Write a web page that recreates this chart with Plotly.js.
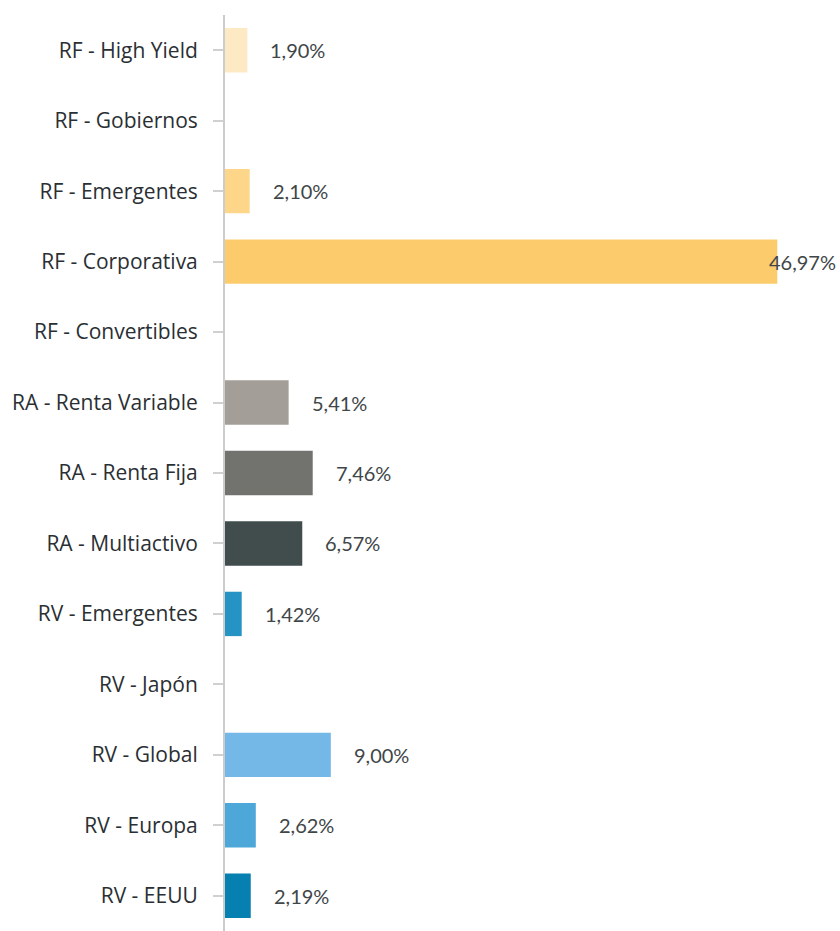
<!DOCTYPE html>
<html>
<head>
<meta charset="utf-8">
<script src="https://cdn.plot.ly/plotly-3.0.1.min.js"></script>
<style>
html,body{margin:0;padding:0;background:#fff;}
#chart{width:840px;height:931px;}
</style>
</head>
<body>
<div id="chart"></div>
<script>
const categories = [
  "RF - High Yield", "RF - Gobiernos", "RF - Emergentes", "RF - Corporativa",
  "RF - Convertibles", "RA - Renta Variable", "RA - Renta Fija", "RA - Multiactivo",
  "RV - Emergentes", "RV - Japón", "RV - Global", "RV - Europa", "RV - EEUU"
];
const values = [1.90, 0, 2.10, 46.97, 0, 5.41, 7.46, 6.57, 1.42, 0, 9.00, 2.62, 2.19];
const colors = [
  "#fde9c4", "#fde9c4", "#fdd68a", "#fccb6c",
  "#fccb6c", "#a39e98", "#72736f", "#414c4c",
  "#2693c5", "#2693c5", "#74b8e8", "#4da7d8", "#0580b0"
];

function fmt(v){ return v.toFixed(2).replace(".", ",") + "%"; }

const annotations = [];
categories.forEach((c, i) => {
  if (values[i] > 0) {
    annotations.push({
      x: values[i], y: c, xref: "x", yref: "y",
      text: fmt(values[i]), showarrow: false,
      xanchor: "left", yanchor: "middle",
      xshift: values[i] > 40 ? -10 : 21,
      font: {family: "Lato, 'Noto Sans', sans-serif", size: 20, color: "#3f4648"}
    });
  }
});

const trace = {
  type: "bar", orientation: "h",
  x: values, y: categories,
  marker: {color: colors},
  hoverinfo: "skip"
};

const layout = {
  width: 840, height: 931,
  margin: {l: 225, r: 0, t: 15, b: 0, pad: 0},
  paper_bgcolor: "#ffffff", plot_bgcolor: "#ffffff",
  showlegend: false,
  bargap: 0.37,
  xaxis: {
    range: [0, 52.3], visible: false, fixedrange: true
  },
  yaxis: {
    autorange: "reversed", type: "category",
    showline: true, linecolor: "#cccccc", linewidth: 2,
    ticks: "outside", ticklen: 10, tickcolor: "#d0d0d0", tickwidth: 2,
    ticklabelstandoff: 11,
    showgrid: false, zeroline: false,
    tickfont: {family: "'Open Sans', 'Noto Sans', sans-serif", size: 21, color: "#2a2f33"}
  },
  annotations: annotations
};

Plotly.newPlot("chart", [trace], layout, {displayModeBar: false, staticPlot: true});
</script>
</body>
</html>
